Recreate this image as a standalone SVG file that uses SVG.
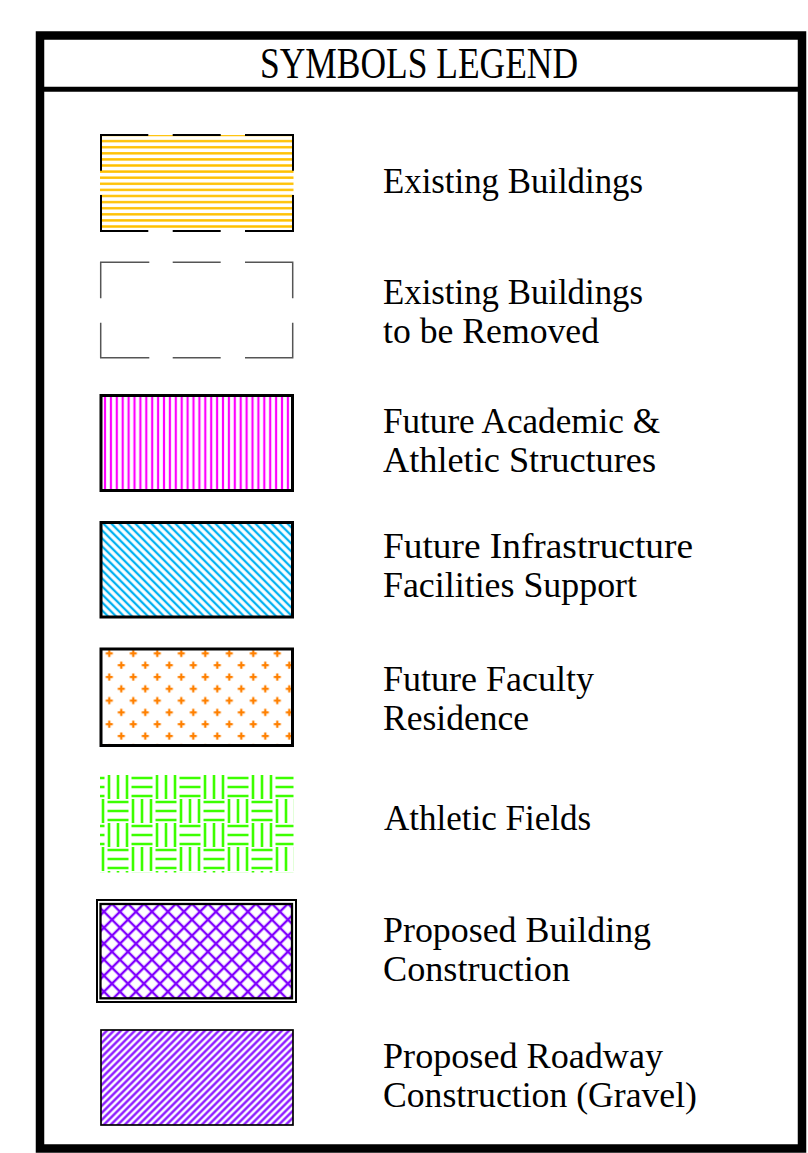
<svg xmlns="http://www.w3.org/2000/svg" width="808" height="1153" viewBox="0 0 808 1153">
<style>
.lbl{font-family:"Liberation Serif","Times New Roman",serif;font-size:35px;fill:#000}
.ttl{font-family:"Liberation Serif","Times New Roman",serif;font-size:44px;fill:#000}
.bd{fill:none;stroke:#000;stroke-width:3}
.dash{fill:none;stroke:#000;stroke-width:2}
.dashg{fill:none;stroke:#555;stroke-width:1.5}
</style>
<defs>
<pattern id="pYellow" patternUnits="userSpaceOnUse" x="0" y="131.95" width="10" height="6.1">
<line x1="0" y1="3.05" x2="10" y2="3.05" stroke="#FFC000" stroke-width="2.4"/>
</pattern>
<pattern id="pMagenta" patternUnits="userSpaceOnUse" x="102.05" y="0" width="5.9" height="10">
<line x1="2.95" y1="0" x2="2.95" y2="10" stroke="#FF00FF" stroke-width="2.2"/>
</pattern>
<pattern id="pCyan" patternUnits="userSpaceOnUse" x="0" y="0" width="10" height="5.66" patternTransform="rotate(45)">
<line x1="0" y1="2.83" x2="10" y2="2.83" stroke="#00B0F0" stroke-width="2.3"/>
</pattern>
<pattern id="pPlus" patternUnits="userSpaceOnUse" x="103.3" y="647.4" width="24" height="23.6">
<path d="M2.5 6H9.5M6 2.5V9.5M14.5 17.8H21.5M18 14.3V21.3" stroke="#FF8000" stroke-width="2.3" fill="none"/>
</pattern>
<pattern id="pWeave" patternUnits="userSpaceOnUse" x="106" y="775" width="48" height="48">
<path d="M3 0V24M12 0V24M21 0V24M25.5 3H46.5M25.5 12H46.5M25.5 21H46.5M1.5 27H22.5M1.5 36H22.5M1.5 45H22.5M27 24V48M36 24V48M45 24V48" stroke="#3CFF00" stroke-width="2.6" fill="none"/>
</pattern>
<pattern id="pCross" patternUnits="userSpaceOnUse" x="0" y="0" width="11.31" height="11.31" patternTransform="rotate(45)">
<path d="M0 5.66H11.31M5.66 0V11.31" stroke="#8000FF" stroke-width="2.4" fill="none"/>
</pattern>
<pattern id="pRoad" patternUnits="userSpaceOnUse" x="0" y="0" width="10" height="4.95" patternTransform="rotate(-45)">
<line x1="0" y1="2.47" x2="10" y2="2.47" stroke="#8000FF" stroke-width="2.2"/>
</pattern>
</defs>

<g id="frame">
<rect x="0" y="0" width="808" height="1153" fill="#fff"/>
<rect x="40" y="35.5" width="762" height="1113" fill="#fff" stroke="#000" stroke-width="8.5"/>
<line x1="44" y1="89.3" x2="798" y2="89.3" stroke="#000" stroke-width="5"/>
</g>

<g id="title">
<text class="ttl" x="419" y="78" text-anchor="middle" textLength="318" lengthAdjust="spacingAndGlyphs">SYMBOLS LEGEND</text>
</g>

<g id="existing-buildings">
<rect x="100" y="135" width="193.5" height="96" fill="url(#pYellow)"/>
<path class="dash" d="M101 170.7V135H148.3M172.7 135H220.7M245 135H293V170.7M101 195V231H148.3M172.7 231H220.7M245 231H293V195"/>
<text class="lbl" x="383" y="192.5" textLength="260" lengthAdjust="spacingAndGlyphs">Existing Buildings</text>
</g>

<g id="existing-buildings-removed">
<path class="dashg" d="M100.7 298.3V262.3H149.3M172.7 262.3H220.7M245 262.3H292.7V298.3M100.7 322.7V357.7H149.3M172.7 357.7H220.7M245 357.7H292.7V322.7"/>
<text class="lbl" x="383" y="303.5" textLength="260" lengthAdjust="spacingAndGlyphs">Existing Buildings</text>
<text class="lbl" x="383" y="342.5" textLength="216" lengthAdjust="spacingAndGlyphs">to be Removed</text>
</g>

<g id="future-academic">
<rect x="101" y="395.5" width="191.5" height="95" fill="url(#pMagenta)"/>
<rect class="bd" x="101" y="395.5" width="191.5" height="95"/>
<text class="lbl" x="383" y="433" textLength="277" lengthAdjust="spacingAndGlyphs">Future Academic &amp;</text>
<text class="lbl" x="383" y="472" textLength="273" lengthAdjust="spacingAndGlyphs">Athletic Structures</text>
</g>

<g id="future-infrastructure">
<rect x="101" y="522.5" width="191.5" height="94.5" fill="url(#pCyan)"/>
<rect class="bd" x="101" y="522.5" width="191.5" height="94.5"/>
<text class="lbl" x="383" y="558" textLength="310" lengthAdjust="spacingAndGlyphs">Future Infrastructure</text>
<text class="lbl" x="383" y="596.5" textLength="254" lengthAdjust="spacingAndGlyphs">Facilities Support</text>
</g>

<g id="future-faculty">
<rect x="101" y="649" width="191.5" height="96.5" fill="url(#pPlus)"/>
<rect class="bd" x="101" y="649" width="191.5" height="96.5"/>
<text class="lbl" x="383" y="691" textLength="211" lengthAdjust="spacingAndGlyphs">Future Faculty</text>
<text class="lbl" x="383" y="730" textLength="146" lengthAdjust="spacingAndGlyphs">Residence</text>
</g>

<g id="athletic-fields">
<rect x="100" y="775" width="193.5" height="97.5" fill="url(#pWeave)"/>
<text class="lbl" x="384" y="830" textLength="207" lengthAdjust="spacingAndGlyphs">Athletic Fields</text>
</g>

<g id="proposed-building">
<rect x="100.5" y="904" width="191.5" height="94.3" fill="url(#pCross)"/>
<rect x="97" y="900" width="199" height="102" fill="none" stroke="#000" stroke-width="2"/>
<rect x="100.5" y="904" width="191.5" height="94.3" fill="none" stroke="#000" stroke-width="2.3"/>
<text class="lbl" x="383" y="942" textLength="268" lengthAdjust="spacingAndGlyphs">Proposed Building</text>
<text class="lbl" x="383" y="980.5" textLength="187" lengthAdjust="spacingAndGlyphs">Construction</text>
</g>

<g id="proposed-roadway">
<rect x="101" y="1030" width="192" height="95" fill="url(#pRoad)"/>
<rect x="101" y="1030" width="192" height="95" fill="none" stroke="#000" stroke-width="1.7"/>
<text class="lbl" x="383" y="1068" textLength="280" lengthAdjust="spacingAndGlyphs">Proposed Roadway</text>
<text class="lbl" x="383" y="1107" textLength="314" lengthAdjust="spacingAndGlyphs">Construction (Gravel)</text>
</g>
</svg>
